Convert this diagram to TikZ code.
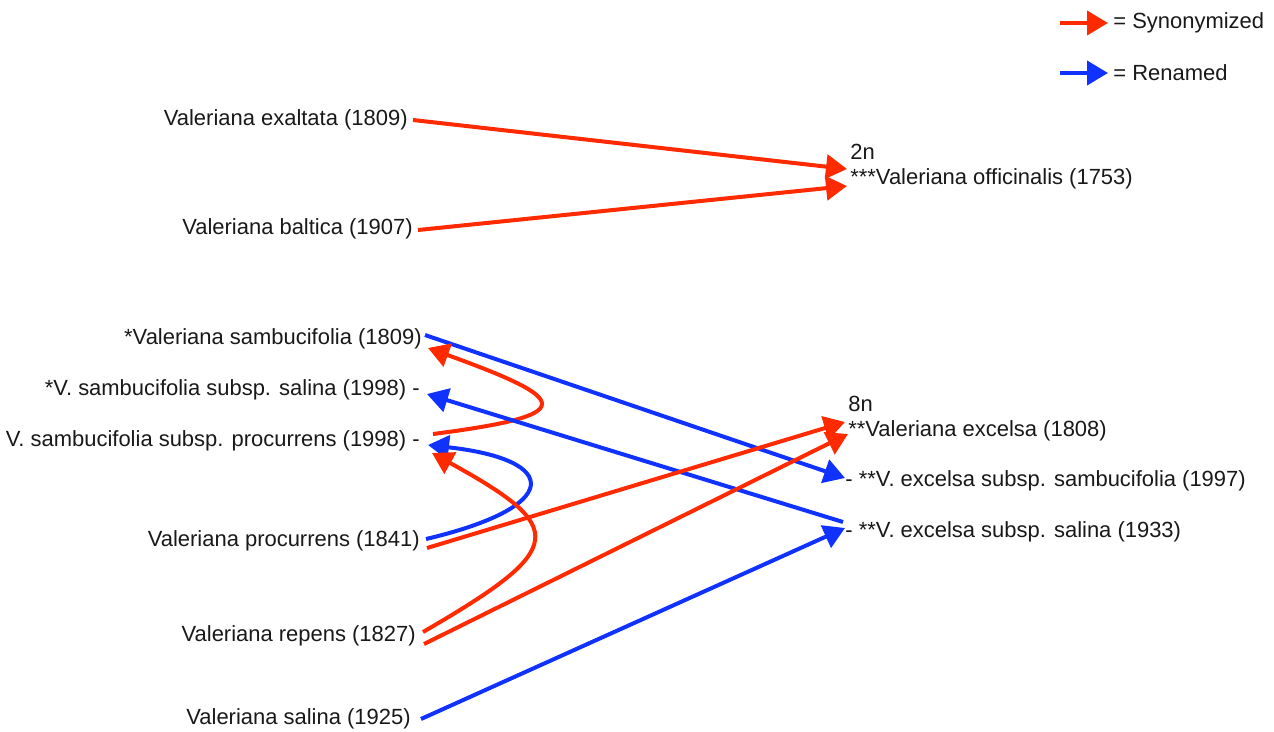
\documentclass[tikz,border=0pt]{standalone}
\usepackage{fontspec}
\setmainfont{Liberation Sans}
\usetikzlibrary{arrows.meta,calc}
\definecolor{synred}{RGB}{255,42,0}
\definecolor{renblue}{RGB}{15,50,255}
\tikzset{
  lab/.style={inner sep=0pt, font=\fontsize{12.5}{15}\selectfont, text=black!90},
  labL/.style={lab, anchor=east},
  labR/.style={lab, anchor=west},
  conn/.style={line width=0.08cm, -{Triangle[length=0.42cm,width=0.48cm]}},
  syn/.style={conn, draw=synred},
  ren/.style={conn, draw=renblue},
}
\begin{document}
\begin{tikzpicture}[x=0.02cm,y=-0.02cm]
\useasboundingbox (0,0) rectangle (1274,731);
% left labels
\node[labL] (exaltata) at (408,120) {Valeriana exaltata (1809)};
\node[labL] (baltica) at (413,229) {Valeriana baltica (1907)};
\node[labL] (sambu) at (422,339) {*Valeriana sambucifolia (1809)};
\node[labL] (sambsal) at (420,390) {*V. sambucifolia subsp. salina (1998) -};
\node[labL] (sambproc) at (420,441) {V. sambucifolia subsp. procurrens (1998) -};
\node[labL] (procurrens) at (420,541) {Valeriana procurrens (1841)};
\node[labL] (repens) at (416,636) {Valeriana repens (1827)};
\node[labL] (salina) at (411,719) {Valeriana salina (1925)};
% right labels
\node[labR] (n2) at (850,152) {2n};
\node[labR] (offic) at (850,179) {***Valeriana officinalis (1753)};
\node[labR] (n8) at (848,404) {8n};
\node[labR] (excelsa) at (848,431) {**Valeriana excelsa (1808)};
\node[labR] (exsamb) at (845,481) {- **V. excelsa subsp. sambucifolia (1997)};
\node[labR] (exsal) at (845,532) {- **V. excelsa subsp. salina (1933)};
% legend
\coordinate (ls1) at (1060,23);
\coordinate (le1) at (1108,23);
\coordinate (ls2) at (1060,73);
\coordinate (le2) at (1108,73);
\node[labR] (legsyn) at (1113,23) {= Synonymized};
\node[labR] (legren) at (1113,73) {= Renamed};
\draw[syn] (ls1) -- (le1);
\draw[ren] (ls2) -- (le2);
% connectors
\draw[syn] ($(exaltata.east)+(5,0)$) -- ($(offic.west)+(-3,-10)$);
\draw[syn] ($(baltica.east)+(5,1)$) -- ($(offic.west)+(-3,7)$);
\draw[ren] ($(sambu.east)+(3,-4)$) -- ($(exsamb.west)+(0,-3)$);
\draw[syn] ($(sambproc.east)+(13,-7)$) .. controls (580,415) and (572,400) .. ($(sambu.east)+(6,9)$);
\draw[ren] ($(exsal.west)+(-2,-10)$) -- ($(sambsal.east)+(7,4)$);
\draw[ren] ($(procurrens.east)+(6,-2)$) .. controls (562,507) and (562,460) .. ($(sambproc.east)+(8,4)$);
\draw[syn] ($(repens.east)+(7,-4)$) .. controls (568,548) and (568,528) .. ($(sambproc.east)+(12,12)$);
\draw[syn] ($(procurrens.east)+(7,7)$) -- ($(excelsa.west)+(-3,-9)$);
\draw[syn] ($(repens.east)+(8,8)$) -- ($(excelsa.west)+(0,3)$);
\draw[ren] ($(salina.east)+(10,0)$) -- ($(exsal.west)+(0,-4)$);
\end{tikzpicture}
\end{document}
